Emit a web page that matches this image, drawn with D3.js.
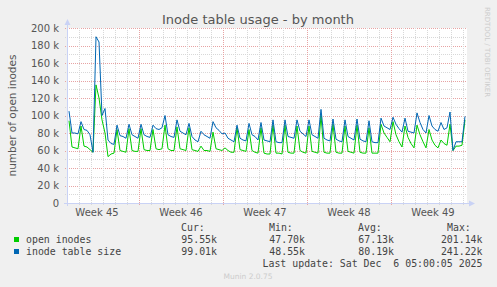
<!DOCTYPE html>
<html>
<head>
<meta charset="utf-8">
<script src="https://cdn.jsdelivr.net/npm/d3@7"></script>
<style>
  body { margin: 0; background: #f0f0f0; }
  svg { display: block; font-family: "DejaVu Sans", sans-serif; }
  .mono { font-family: "DejaVu Sans Mono", monospace; }
</style>
</head>
<body>
<script>
// samples every 6 hours, first one Nov 4 04:00, values in thousands
var firstSample = new Date(2025, 10, 4, 4);
var stepHours = 6;

var openInodes = [
  94, 64, 63, 62,  88, 65, 64, 61,  58, 135, 120, 95,  80, 53, 56, 57,
  84, 60, 59, 58,  85, 60, 59, 59,  85, 61, 60, 60,  84, 62, 61, 62,
  89, 62, 60, 60,  87, 62, 61, 60,  86, 61, 60, 59,  65, 60, 60, 59,
  81, 62, 61, 60,  63, 60, 58, 58,  86, 61, 60, 59,  84, 60, 58, 57,
  86, 57, 56, 56,  89, 57, 57, 56,  89, 58, 57, 57,  88, 60, 58, 57,
  88, 59, 58, 57,  100, 58, 57, 57,  90, 58, 57, 57,  88, 59, 58, 57,
  89, 58, 57, 57,  86, 57, 57, 57,  90, 80, 75, 70,  93, 78, 70, 64,
  88, 75, 68, 63,  89, 78, 70, 63,  84, 72, 66, 63,  72, 68, 66, 90,
  60, 65, 65, 66,  95
];

var tableSize = [
  105, 80, 80, 79,  93, 84, 83, 78,  58, 190, 184, 100,  108, 72, 68, 67,
  89, 77, 76, 74,  90, 78, 76, 74,  90, 78, 76, 75,  89, 85, 84, 86,
  100, 78, 76, 75,  95, 82, 80, 78,  91, 76, 72, 70,  82, 78, 76, 74,
  93, 86, 83, 79,  80, 74, 72, 70,  89, 74, 72, 71,  91, 78, 76, 72,
  92, 72, 71, 70,  95, 70, 69, 69,  95, 76, 75, 74,  95, 82, 79, 76,
  95, 78, 76, 74,  107, 74, 72, 71,  96, 73, 71, 70,  95, 76, 74, 72,
  96, 73, 71, 70,  94, 70, 69, 69,  97, 88, 86, 84,  98, 90, 85, 81,
  97, 82, 81, 80,  103, 92, 84, 80,  100, 88, 84, 82,  92, 84, 86, 104,
  60, 70, 70, 70,  99
];

var seriesNames = ["open inodes", "inode table size"];
var seriesColors = ["#00cc00", "#0066b3"];
var curVals = ["95.55k", "99.01k"];
var minVals = ["47.70k", "48.55k"];
var avgVals = ["67.13k", "80.19k"];
var maxVals = ["201.14k", "241.22k"];

var yTicks = [0, 20, 40, 60, 80, 100, 120, 140, 160, 180, 200];

// dimensions
var width = 497, height = 287;
var margin = { top: 28, left: 67, right: 30, bottom: 84 };
var plotW = width - margin.left - margin.right;
var plotH = height - margin.top - margin.bottom;

var start = new Date(2025, 10, 4, 0);
var end = new Date(2025, 11, 7, 8);

var x = d3.scaleTime().domain([start, end]).range([margin.left, margin.left + plotW]);
var y = d3.scaleLinear().domain([0, 200]).range([margin.top + plotH, margin.top]);

var svg = d3.select("body").append("svg")
    .attr("width", width)
    .attr("height", height);

svg.append("rect")
    .attr("width", width).attr("height", height)
    .attr("fill", "#f0f0f0");

// white canvas
svg.append("rect")
    .attr("x", margin.left).attr("y", margin.top)
    .attr("width", plotW).attr("height", plotH)
    .attr("fill", "#ffffff");

var minorColor = "#d8d8d8", majorColor = "#e7a3a3";
var x0 = margin.left, x1 = margin.left + plotW;
var yb = margin.top + plotH;

// horizontal grid
var grid = svg.append("g").attr("shape-rendering", "crispEdges");
d3.range(10, 201, 10).forEach(function(v) {
    var major = v % 20 === 0;
    grid.append("line")
        .attr("x1", x0 - 2).attr("x2", x1)
        .attr("y1", Math.round(y(v)) + 0.5).attr("y2", Math.round(y(v)) + 0.5)
        .attr("stroke", major ? majorColor : minorColor)
        .attr("stroke-dasharray", "1,1");
});

// vertical grid: days and weeks
var days = d3.timeDay.range(d3.timeDay.offset(start, 1), end);
var mondays = d3.timeMonday.range(start, end);
days.forEach(function(d) {
    if (d.getDay() === 1) return;
    grid.append("line")
        .attr("x1", Math.round(x(d)) + 0.5).attr("x2", Math.round(x(d)) + 0.5)
        .attr("y1", margin.top).attr("y2", yb + 2)
        .attr("stroke", minorColor)
        .attr("stroke-dasharray", "1,1");
});
mondays.forEach(function(d) {
    grid.append("line")
        .attr("x1", Math.round(x(d)) + 0.5).attr("x2", Math.round(x(d)) + 0.5)
        .attr("y1", margin.top).attr("y2", yb + 3)
        .attr("stroke", majorColor)
        .attr("stroke-dasharray", "1,1");
});

// axes lines with arrows
var axisColor = "#c9d2f5";
svg.append("line")
    .attr("x1", x0 + 0.5).attr("x2", x0 + 0.5)
    .attr("y1", yb + 3).attr("y2", margin.top - 6)
    .attr("stroke", axisColor);
svg.append("path")
    .attr("d", "M" + (x0 - 2.5) + "," + (margin.top - 3) + "L" + (x0 + 0.5) + "," + (margin.top - 9) + "L" + (x0 + 3.5) + "," + (margin.top - 3) + "Z")
    .attr("fill", axisColor);
svg.append("line")
    .attr("x1", x0 - 3).attr("x2", x1 + 4)
    .attr("y1", yb + 0.5).attr("y2", yb + 0.5)
    .attr("stroke", axisColor);
svg.append("path")
    .attr("d", "M" + (x1 + 2) + "," + (yb - 2.5) + "L" + (x1 + 8) + "," + (yb + 0.5) + "L" + (x1 + 2) + "," + (yb + 3.5) + "Z")
    .attr("fill", axisColor);

// y tick labels
svg.append("g").selectAll("text")
    .data(yTicks)
    .enter().append("text")
    .attr("x", 59)
    .attr("y", function(d) { return y(d) + 3.5; })
    .attr("text-anchor", "end")
    .attr("font-size", "10px")
    .attr("fill", "#555")
    .text(function(d) { return d === 0 ? "0" : d + " k"; });

// week labels, centred in the week
var weekFmt = d3.timeFormat("Week %V");
var weekStarts = [d3.timeMonday.floor(start)].concat(mondays);
svg.append("g").selectAll("text")
    .data(weekStarts)
    .enter().append("text")
    .attr("x", function(d) { return x(d3.timeHour.offset(d, 84)); })
    .attr("y", 216)
    .attr("text-anchor", "middle")
    .attr("font-size", "10px")
    .attr("fill", "#555")
    .text(function(d) { return weekFmt(d); });

// y title
svg.append("text")
    .attr("transform", "translate(16," + (margin.top + plotH / 2) + ") rotate(-90)")
    .attr("text-anchor", "middle")
    .attr("font-size", "10.5px")
    .attr("fill", "#555")
    .text("number of open inodes");

// title
svg.append("text")
    .attr("x", 258).attr("y", 24)
    .attr("text-anchor", "middle")
    .attr("font-size", "13px")
    .attr("fill", "#555")
    .text("Inode table usage - by month");

// watermark
svg.append("text")
    .attr("transform", "translate(485,52) rotate(90)")
    .attr("text-anchor", "middle")
    .attr("font-size", "7px")
    .attr("fill", "#cccccc")
    .text("RRDTOOL / TOBI OETIKER");

// lines
var line = d3.line()
    .x(function(d, i) { return x(d3.timeHour.offset(firstSample, i * stepHours)); })
    .y(function(d) { return y(d); });

[openInodes, tableSize].forEach(function(series, s) {
    svg.append("path")
        .datum(series)
        .attr("fill", "none")
        .attr("stroke", seriesColors[s])
        .attr("stroke-width", 1)
        .attr("d", line);
});

// legend
var legend = svg.append("g").attr("class", "mono").attr("font-size", "9.9px").attr("fill", "#444");
var cols = [
    { head: "Cur:", hx: 181, vx: 217, vals: curVals },
    { head: "Min:", hx: 269, vx: 305, vals: minVals },
    { head: "Avg:", hx: 358, vx: 394, vals: avgVals },
    { head: "Max:", hx: 447, vx: 482.5, vals: maxVals }
];
cols.forEach(function(c) {
    legend.append("text").attr("x", c.hx).attr("y", 231).text(c.head);
    c.vals.forEach(function(v, i) {
        legend.append("text")
            .attr("x", c.vx).attr("y", 243 + i * 12)
            .attr("text-anchor", "end")
            .text(v);
    });
});
seriesNames.forEach(function(n, i) {
    legend.append("rect")
        .attr("x", 14).attr("y", 237 + i * 12)
        .attr("width", 5).attr("height", 5)
        .attr("fill", seriesColors[i]);
    legend.append("text")
        .attr("x", 26).attr("y", 243 + i * 12)
        .text(n);
});
legend.append("text")
    .attr("x", 482.5).attr("y", 267)
    .attr("text-anchor", "end")
    .style("white-space", "pre")
    .text("Last update: Sat Dec  6 05:00:05 2025");

svg.append("text")
    .attr("x", 248).attr("y", 279)
    .attr("text-anchor", "middle")
    .attr("font-size", "7.5px")
    .attr("fill", "#cccccc")
    .text("Munin 2.0.75");
</script>
</body>
</html>
